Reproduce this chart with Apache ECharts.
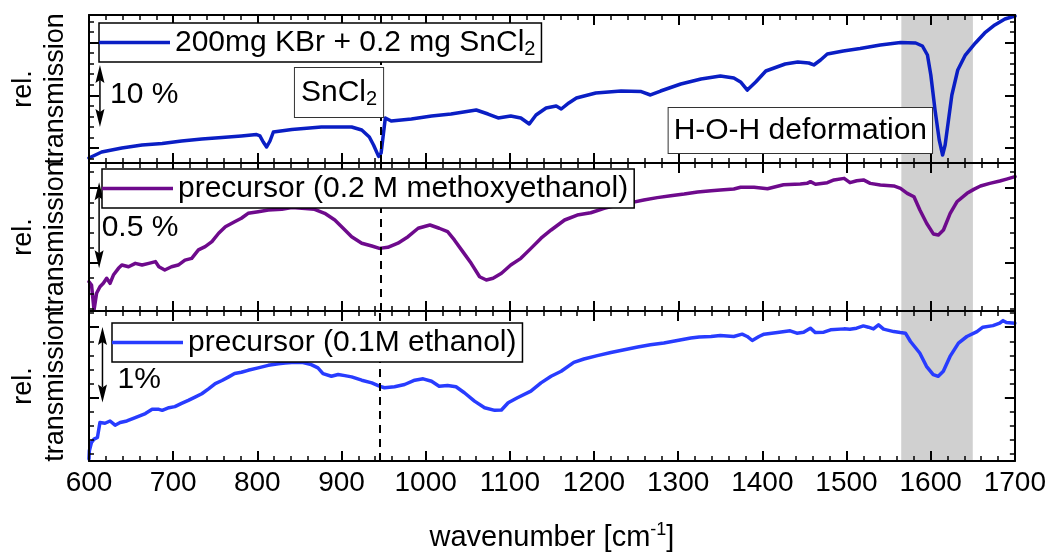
<!DOCTYPE html>
<html>
<head>
<meta charset="utf-8">
<title>IR transmission spectra</title>
<script src="https://cdn.jsdelivr.net/npm/echarts@6/dist/echarts.min.js"></script>
<style>
  html, body { margin: 0; padding: 0; background: #fff; }
  #chart { width: 1049px; height: 556px; }
</style>
</head>
<body>
<div id="chart"></div>
<script>
// Spectra: [wavenumber in cm^-1, relative transmission in %]
const kbrSncl2 = [
  [600,-1.61],[615,-0.65],[639,0],[663,0.48],[687,0.73],[710,1.13],[734,1.45],[758,1.69],
  [781,1.94],[799,2.18],[803,1.94],[807,0.97],[811,0.16],[815,1.13],[819,2.58],[841,2.98],
  [876,3.39],[912,3.39],[924,2.90],[933,1.77],[938,0.48],[944,-1.35],[947,-0.81],[952,4.84],
  [959,4.35],[983,4.68],[1007,5.16],[1030,5.48],[1060,6.13],[1074,5.48],[1086,4.84],[1101,5.16],
  [1113,4.84],[1123,3.87],[1131,5.32],[1143,6.45],[1155,6.77],[1161,6.29],[1170,7.26],[1179,8.06],
  [1202,8.87],[1232,9.19],[1256,9.11],[1267,8.55],[1279,9.19],[1303,10.32],[1327,11.13],[1350,11.61],
  [1366,11.29],[1374,10.65],[1382,9.35],[1392,10.65],[1404,12.42],[1427,13.55],[1442,13.87],[1455,13.71],
  [1461,13.39],[1469,14.19],[1477,15.16],[1496,15.65],[1516,16.05],[1540,16.61],[1564,17.02],[1582,16.94],
  [1590,16.45],[1596,15.0],[1600,11.77],[1605,6.13],[1610,1.29],[1614,-1.13],[1617,0.48],[1621,4.52],
  [1625,8.55],[1632,12.58],[1641,15.0],[1653,16.94],[1664,18.55],[1676,19.84],[1688,20.81],[1700,21.29]
];

const precursorMethoxyethanol = [
  [600,-0.109],[603,-0.128],[606,-0.273],[609,-0.176],[613,-0.138],[617,-0.118],[621,-0.089],[625,-0.118],
  [629,-0.070],[635,-0.031],[639,-0.012],[647,-0.022],[655,-0.002],[663,-0.012],[671,-0.002],[679,0.008],
  [683,-0.022],[690,-0.041],[698,-0.022],[706,-0.012],[714,0.017],[722,0.027],[730,0.076],[738,0.095],
  [746,0.124],[754,0.173],[762,0.211],[773,0.240],[781,0.260],[789,0.289],[801,0.298],[813,0.308],
  [829,0.312],[841,0.322],[853,0.318],[868,0.312],[880,0.289],[892,0.250],[904,0.192],[912,0.153],
  [924,0.115],[936,0.099],[945,0.085],[955,0.091],[967,0.115],[979,0.153],[991,0.202],[1005,0.221],
  [1016,0.202],[1026,0.182],[1034,0.134],[1044,0.066],[1054,-0.002],[1064,-0.080],[1072,-0.099],[1080,-0.089],
  [1090,-0.060],[1101,-0.012],[1113,0.027],[1125,0.085],[1137,0.144],[1149,0.192],[1165,0.250],[1180,0.279],
  [1196,0.292],[1212,0.318],[1228,0.337],[1244,0.351],[1259,0.366],[1275,0.380],[1291,0.391],[1307,0.401],
  [1323,0.413],[1339,0.420],[1350,0.424],[1366,0.430],[1374,0.440],[1390,0.440],[1406,0.432],[1425,0.455],
  [1445,0.459],[1453,0.463],[1457,0.473],[1463,0.458],[1477,0.467],[1485,0.483],[1497,0.492],[1504,0.467],
  [1512,0.478],[1520,0.483],[1528,0.463],[1540,0.453],[1556,0.448],[1564,0.434],[1572,0.405],[1580,0.385],
  [1587,0.308],[1595,0.231],[1603,0.169],[1609,0.163],[1615,0.192],[1623,0.289],[1631,0.356],[1643,0.405],
  [1651,0.428],[1659,0.448],[1670,0.463],[1682,0.477],[1690,0.488],[1700,0.502]
];

const precursorEthanol = [
  [600,-0.816],[600.4,-0.707],[603,-0.596],[606,-0.553],[610,-0.530],[613,-0.333],[619,-0.342],[625,-0.312],
  [631,-0.368],[637,-0.333],[645,-0.312],[655,-0.267],[667,-0.214],[675,-0.158],[683,-0.158],[687,-0.171],
  [695,-0.136],[702,-0.122],[710,-0.079],[718,-0.039],[726,0.004],[734,0.049],[742,0.114],[750,0.184],
  [758,0.224],[766,0.272],[773,0.316],[781,0.333],[789,0.359],[801,0.391],[813,0.425],[825,0.447],
  [833,0.457],[841,0.464],[853,0.464],[864,0.434],[872,0.391],[878,0.316],[888,0.280],[896,0.303],
  [904,0.289],[912,0.272],[924,0.228],[936,0.193],[945,0.149],[951,0.128],[963,0.141],[975,0.171],
  [987,0.228],[997,0.246],[1007,0.214],[1016,0.149],[1026,0.158],[1036,0.141],[1046,0.062],[1058,-0.049],
  [1070,-0.136],[1082,-0.171],[1090,-0.167],[1098,-0.070],[1109,-0.004],[1125,0.083],[1137,0.193],[1149,0.280],
  [1161,0.346],[1176,0.464],[1188,0.509],[1204,0.553],[1220,0.596],[1236,0.632],[1252,0.667],[1267,0.697],
  [1283,0.720],[1299,0.754],[1315,0.786],[1325,0.799],[1339,0.807],[1350,0.820],[1366,0.807],[1376,0.838],
  [1382,0.807],[1388,0.754],[1396,0.807],[1402,0.838],[1418,0.859],[1433,0.882],[1441,0.851],[1449,0.864],
  [1457,0.917],[1463,0.859],[1473,0.864],[1481,0.895],[1497,0.908],[1504,0.904],[1512,0.917],[1520,0.947],
  [1526,0.930],[1532,0.908],[1538,0.961],[1544,0.904],[1556,0.872],[1564,0.859],[1570,0.851],[1576,0.741],
  [1587,0.588],[1595,0.412],[1603,0.303],[1609,0.280],[1615,0.346],[1623,0.543],[1633,0.720],[1643,0.807],
  [1655,0.872],[1662,0.930],[1674,0.951],[1682,0.983],[1686,1.017],[1690,0.991],[1700,0.983]
];

const seriesNames = ['200mg KBr + 0.2 mg SnCl2', 'precursor (0.2 M methoxyethanol)', 'precursor (0.1M ethanol)'];
const scaleBarValues = [10, 0.5, 1];          // length of each scale arrow, % rel. transmission
const scaleBarLabels = ['10 %', '0.5 %', '1%'];
const waterBand = [1565, 1650];               // H-O-H deformation region, cm^-1
const sncl2Band = 946;                        // SnCl2 band, cm^-1
const annotationTexts = ['SnCl{s|2}', 'H-O-H deformation'];
const xRange = [600, 1700];
const xStep = 100;

const FONT = "'Liberation Sans', Arial, Helvetica, sans-serif";
const BLACK = '#000';
const LINE_WIDTH = 3.5;

// Panel layout and styling
const panels = [
  { top: 15, height: 148, min: -2.419, max: 21.452, step: 8.5, color: '#0a1ec4', data: kbrSncl2,
    legendLeft: 99, legendTop: 23, bar: [613, 3.4, 625, 8.55] },
  { top: 163, height: 148, min: -0.2791, max: 0.5814, step: 0.44, color: '#6e0a8c', data: precursorMethoxyethanol,
    legendLeft: 102, legendTop: 169, bar: [612, -0.03, 615, 0.203] },
  { top: 311, height: 151, min: -0.8421, max: 1.1447, step: 0.93, color: '#283cff', data: precursorEthanol,
    legendLeft: 112, legendTop: 323, bar: [616, -0.066, 634, 0.237] }
];

const subRich = { s: { fontSize: 20, lineHeight: 14, verticalAlign: 'bottom', fontFamily: FONT, color: BLACK, fill: BLACK } };

const tickLine = { color: BLACK, width: 2 };
const minorLine = { color: BLACK, width: 1.5 };

function xAxisFor(i, position) {
  const showLabels = position === 'bottom' && i === panels.length - 1;
  return {
    gridIndex: i, type: 'value', position: position,
    min: xRange[0], max: xRange[1], interval: xStep, z: 3,
    axisLine: { show: true, onZero: false, lineStyle: { color: BLACK, width: 2 } },
    axisTick: { show: true, inside: true, length: 10, lineStyle: tickLine },
    minorTick: { show: true, splitNumber: 5, length: 5, lineStyle: minorLine },
    splitLine: { show: false }, minorSplitLine: { show: false },
    axisLabel: showLabels
      ? { show: true, fontSize: 28, fontFamily: FONT, color: BLACK, margin: 8, formatter: v => String(v) }
      : { show: false },
    name: showLabels ? 'wavenumber [cm{sup|-1}]' : '',
    nameLocation: 'middle', nameGap: 60,
    nameTextStyle: {
      fontSize: 29, fontFamily: FONT, color: BLACK, lineHeight: 34,
      rich: { sup: { fontSize: 18, lineHeight: 14, verticalAlign: 'top', fontFamily: FONT, color: BLACK } }
    }
  };
}

function yAxisFor(p, i, position) {
  return {
    gridIndex: i, type: 'value', position: position,
    min: p.min, max: p.max, splitNumber: 3, minInterval: p.step, maxInterval: p.step, z: 3,
    axisLine: { show: true, onZero: false, lineStyle: { color: BLACK, width: 2 } },
    axisTick: { show: true, inside: true, length: 10, lineStyle: tickLine },
    minorTick: { show: true, splitNumber: 5, length: 5, lineStyle: minorLine },
    splitLine: { show: false }, minorSplitLine: { show: false },
    axisLabel: { show: false },
    name: position === 'left' ? 'rel.\ntransmission' : '',
    nameLocation: 'middle', nameRotate: 90, nameGap: 17,
    nameTextStyle: { fontSize: 27, fontFamily: FONT, color: BLACK, lineHeight: 32 }
  };
}

// Double-headed scale arrow with its label, placed in data coordinates
function scaleBarRenderer(label) {
  return function (params, api) {
    const x = api.value(0), y0 = api.value(1), span = api.value(2);
    const a = api.coord([x, y0]);          // lower tip
    const b = api.coord([x, y0 + span]);   // upper tip
    const t = api.coord([api.value(3), api.value(4)]);
    const head = 18, half = 4.5, notch = 3;
    return {
      type: 'group',
      children: [
        { type: 'line', shape: { x1: a[0], y1: a[1] - head + notch, x2: b[0], y2: b[1] + head - notch },
          style: { stroke: BLACK, lineWidth: 1.5 } },
        { type: 'polygon', shape: { points: [[b[0], b[1]], [b[0] + half, b[1] + head], [b[0], b[1] + head - notch], [b[0] - half, b[1] + head]] },
          style: { fill: BLACK } },
        { type: 'polygon', shape: { points: [[a[0], a[1]], [a[0] + half, a[1] - head], [a[0], a[1] - head + notch], [a[0] - half, a[1] - head]] },
          style: { fill: BLACK } },
        { type: 'text', x: t[0], y: t[1],
          style: { text: label, align: 'left', verticalAlign: 'middle', fontSize: 30, fontFamily: FONT, fill: BLACK } }
      ]
    };
  };
}

// Boxed text labels in the top panel
function annotationRenderer(params, api) {
  const idx = api.value(2);
  const p = api.coord([api.value(0), api.value(1)]);
  return {
    type: 'text', x: p[0], y: p[1],
    style: {
      text: annotationTexts[idx], align: 'center', verticalAlign: 'middle',
      fontSize: 30, fontFamily: FONT, fill: BLACK, lineHeight: 33,
      backgroundColor: '#fff', borderColor: '#333', borderWidth: 1,
      padding: idx === 0 ? [8, 6, 8, 6] : [6, 5, 6, 5],
      rich: subRich
    }
  };
}

const grids = panels.map(p => ({ left: 87, right: 34, top: p.top, height: p.height, containLabel: false }));

const xAxes = [];
const yAxes = [];
panels.forEach((p, i) => {
  xAxes.push(xAxisFor(i, 'bottom'), xAxisFor(i, 'top'));
  yAxes.push(yAxisFor(p, i, 'left'), yAxisFor(p, i, 'right'));
});

const series = [];
panels.forEach((p, i) => {
  series.push({
    name: seriesNames[i], type: 'line', xAxisIndex: 2 * i, yAxisIndex: 2 * i,
    data: p.data, symbol: 'none', showSymbol: false, smooth: false, sampling: false,
    lineStyle: { color: p.color, width: LINE_WIDTH, join: 'round', cap: 'round' }, itemStyle: { color: p.color },
    z: 2, clip: true, silent: true,
    markArea: {
      silent: true, itemStyle: { color: '#d0d0d0' },
      data: [[{ xAxis: waterBand[0] }, { xAxis: waterBand[1] }]]
    },
    markLine: {
      silent: true, symbol: 'none', label: { show: false },
      lineStyle: { color: BLACK, width: 2, type: [8, 6] },
      data: [{ xAxis: sncl2Band }]
    }
  });
  series.push({
    type: 'custom', xAxisIndex: 2 * i, yAxisIndex: 2 * i, z: 5, silent: true,
    renderItem: scaleBarRenderer(scaleBarLabels[i]),
    data: [[p.bar[0], p.bar[1], scaleBarValues[i], p.bar[2], p.bar[3]]]
  });
});
series.push({
  type: 'custom', xAxisIndex: 0, yAxisIndex: 0, z: 6, silent: true,
  renderItem: annotationRenderer,
  data: [[897, 8.95, 0], [1445, 2.82, 1]]
});

// Boxed legends, one per panel; the sample is a plain bar in the series colour
const legends = panels.map((p, i) => ({
  data: [{ name: seriesNames[i], icon: 'rect', itemStyle: { color: p.color } }],
  left: p.legendLeft, top: p.legendTop, orient: 'horizontal',
  padding: [3, 6, 3, 0], itemWidth: 71, itemHeight: LINE_WIDTH, itemGap: 0,
  backgroundColor: '#fff', borderColor: BLACK, borderWidth: 1.5, borderRadius: 0,
  selectedMode: false, z: 6,
  formatter: name => name.replace('SnCl2', 'SnCl{s|2}'),
  textStyle: { fontSize: 30, fontFamily: FONT, color: BLACK, lineHeight: 33, rich: subRich }
}));

const chart = echarts.init(document.getElementById('chart'), null, { renderer: 'canvas' });
chart.setOption({
  animation: false,
  backgroundColor: '#fff',
  textStyle: { fontFamily: FONT },
  grid: grids,
  xAxis: xAxes,
  yAxis: yAxes,
  legend: legends,
  series: series
});
</script>
</body>
</html>
